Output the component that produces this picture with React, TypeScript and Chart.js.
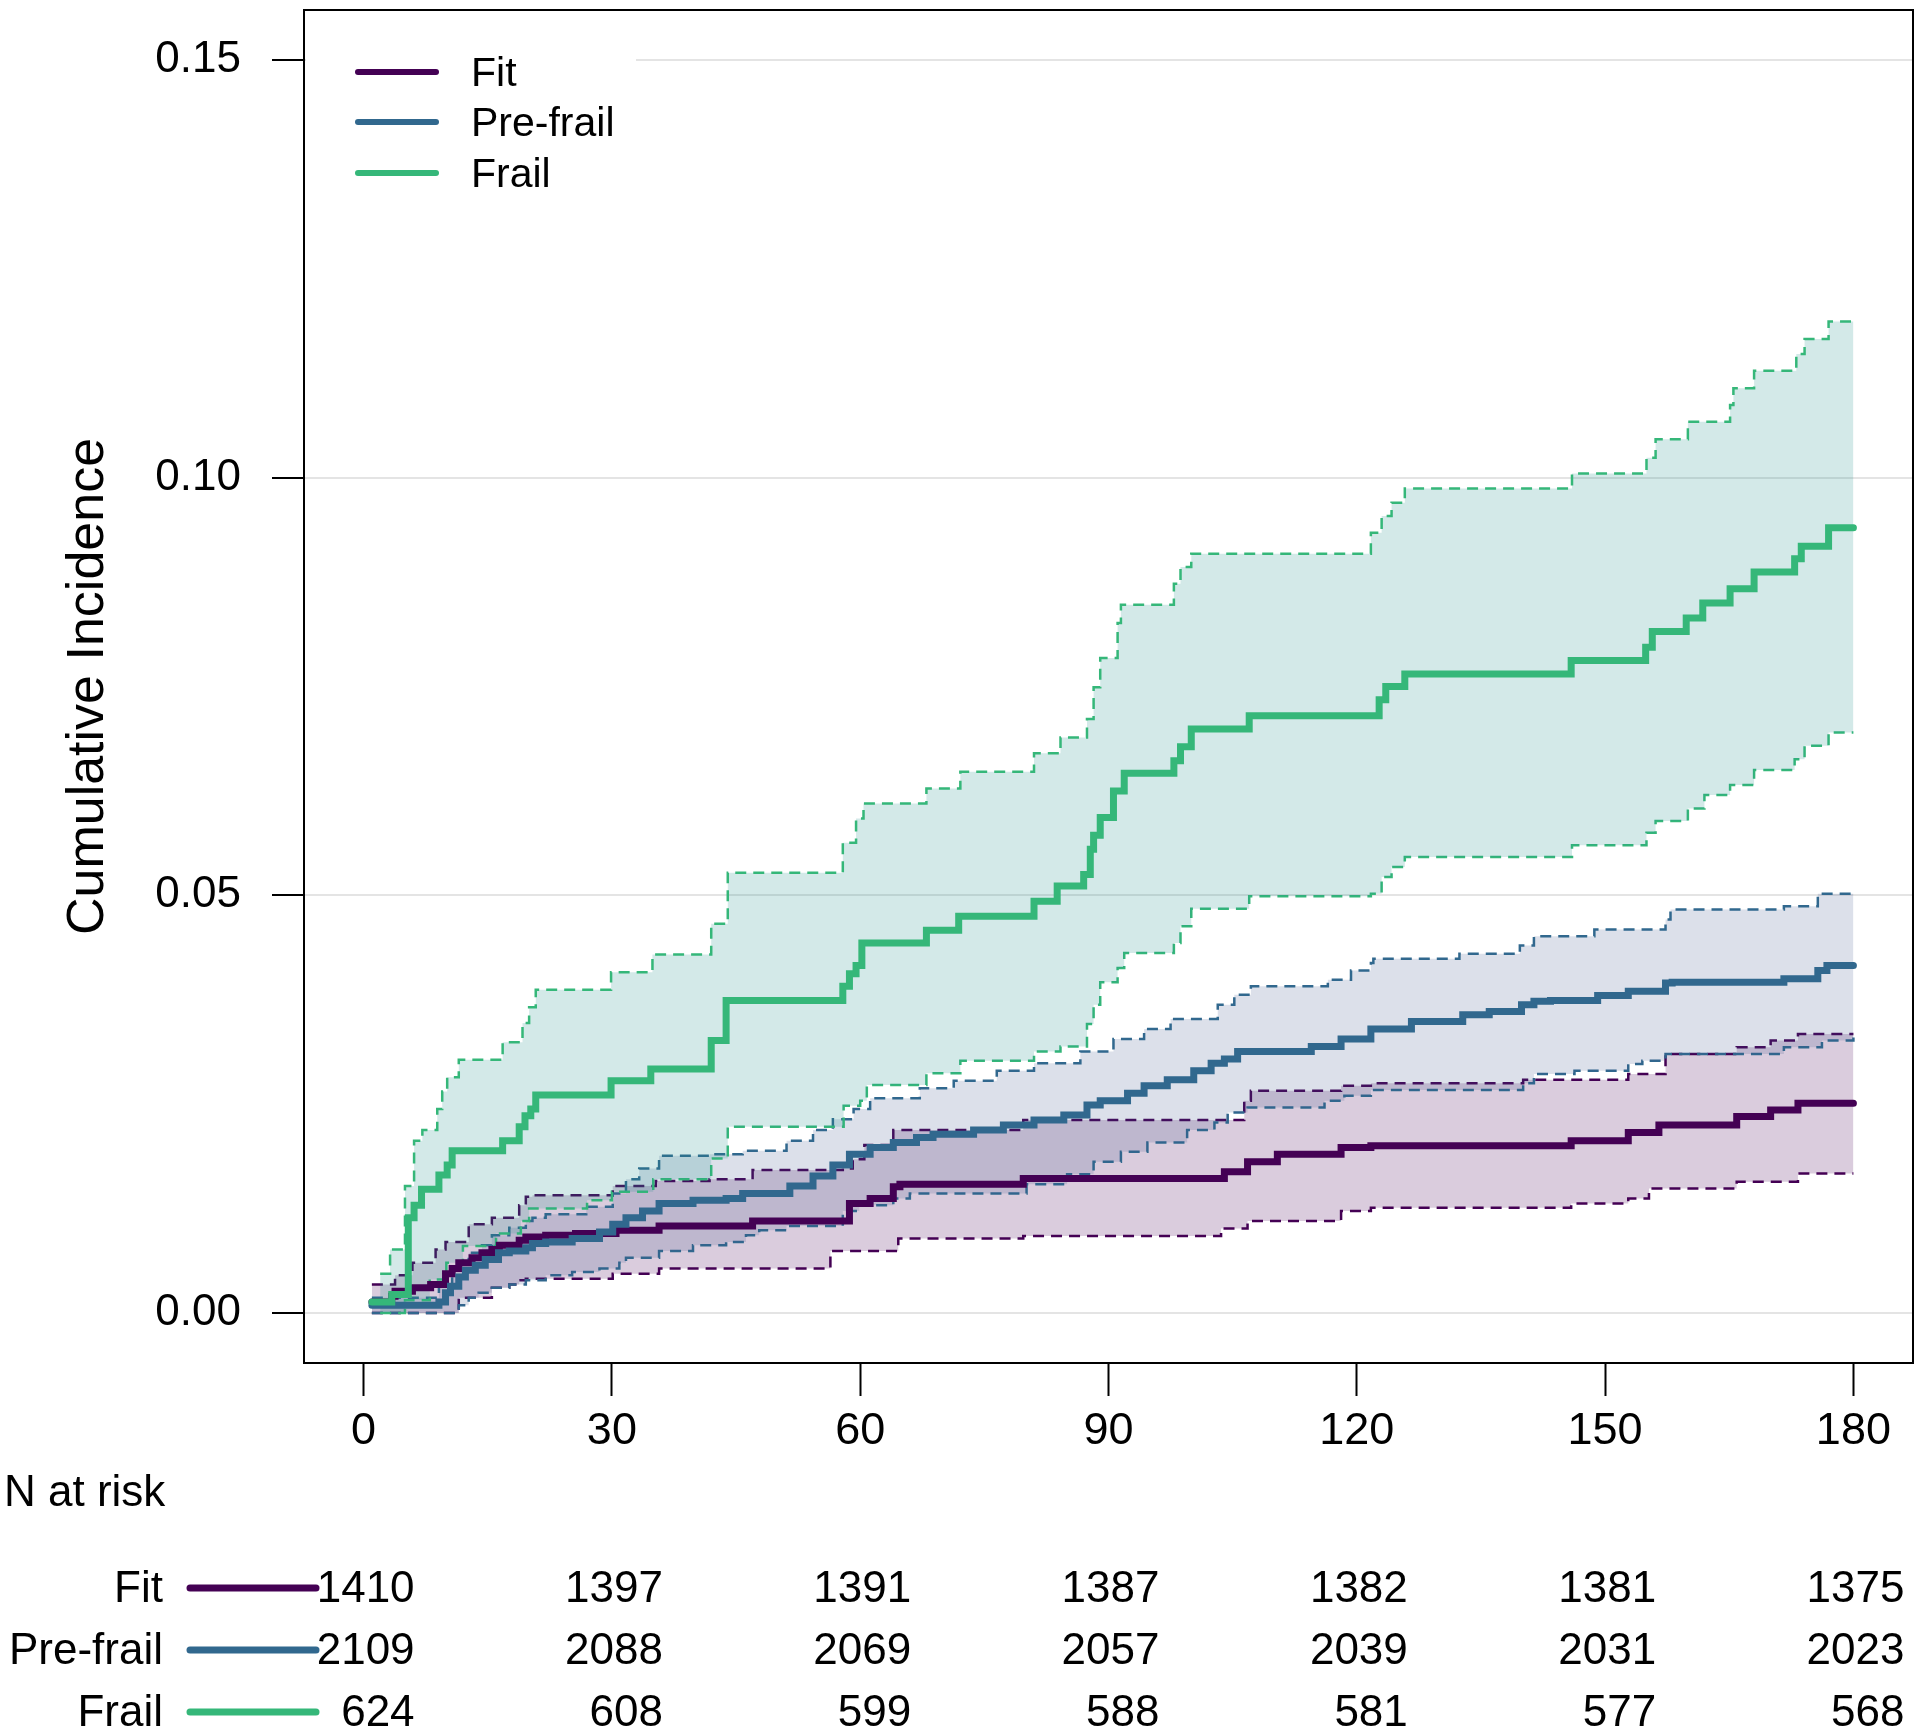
import React, { useEffect, useRef } from 'react';
import { Chart, registerables } from 'chart.js';

Chart.register(...registerables);

// ---------- Data ----------
const seriesNames = ['Fit', 'Pre-frail', 'Frail'];
const lineColors = ['#440154', '#31688E', '#35B779'];
const fillColors = ['rgba(68,1,84,0.20)', 'rgba(59,82,139,0.18)', 'rgba(33,144,140,0.20)'];

const xTicks = [0, 30, 60, 90, 120, 150, 180];
const yTicks = [0, 0.05, 0.1, 0.15];
const yTickLabels = ['0.00', '0.05', '0.10', '0.15'];

// Frail
const frailEstDays = [1, 3.4, 5.4, 6.1, 7.0, 9.1, 10.1, 10.7, 16.8, 18.8, 19.5, 20.2, 20.8, 29.9, 34.7, 42.0, 43.8, 57.9, 58.7, 59.5, 60.2, 68.0, 71.9, 81.0, 83.8, 87.0, 87.8, 88.2, 89.0, 90.6, 91.9, 97.9, 98.7, 100.0, 107.0, 122.7, 123.5, 125.8, 145.9, 154.9, 155.7, 159.8, 161.8, 165.1, 168.0, 172.9, 173.7, 177.0, 180];
const frailEstVals = [0.0013, 0.0022, 0.0114, 0.0129, 0.0148, 0.0165, 0.0177, 0.0194, 0.0206, 0.0223, 0.0236, 0.0244, 0.0261, 0.0278, 0.0292, 0.0326, 0.0374, 0.0391, 0.0406, 0.0416, 0.0443, 0.0458, 0.0475, 0.0493, 0.0511, 0.0525, 0.0555, 0.0572, 0.0593, 0.0625, 0.0646, 0.0661, 0.0678, 0.0699, 0.0715, 0.0734, 0.075, 0.0765, 0.0781, 0.0797, 0.0816, 0.0832, 0.085, 0.0867, 0.0887, 0.0903, 0.0918, 0.094, 0.094];
const frailUpDays = [2.0, 3.2, 5.0, 6.1, 7.1, 8.9, 9.5, 10.1, 11.5, 16.8, 19.2, 20.0, 20.8, 29.9, 34.9, 42.0, 44.0, 57.9, 59.5, 60.4, 68.0, 72.1, 81.0, 84.2, 87.4, 88.2, 89.0, 91.1, 91.5, 97.9, 98.7, 100.0, 121.7, 123.0, 124.2, 125.8, 146.0, 155.0, 156.1, 160.0, 165.1, 165.5, 168.0, 173.1, 174.1, 177.0, 180];
const frailUpVals = [0.0047, 0.0076, 0.0152, 0.0206, 0.0219, 0.0244, 0.0265, 0.0282, 0.0303, 0.0324, 0.0347, 0.0366, 0.0387, 0.0408, 0.0429, 0.0466, 0.0527, 0.0563, 0.0592, 0.061, 0.0628, 0.0648, 0.067, 0.0689, 0.0711, 0.0749, 0.0784, 0.0826, 0.0848, 0.0873, 0.0893, 0.0909, 0.0934, 0.0954, 0.097, 0.0987, 0.1005, 0.1024, 0.1046, 0.1067, 0.1087, 0.1107, 0.1128, 0.1148, 0.1166, 0.1187, 0.1187];
const frailLowDays = [2.0, 5.0, 8.0, 10.0, 12.0, 16.0, 19.0, 20.0, 27.0, 30.0, 35.0, 42.0, 44.0, 58.0, 60.0, 60.8, 68.0, 72.1, 81.0, 84.2, 87.4, 88.2, 89.0, 91.1, 91.9, 97.9, 98.7, 100.0, 107.0, 121.7, 123.0, 124.2, 125.8, 146.0, 155.0, 156.1, 160.0, 162.0, 165.1, 168.0, 172.9, 174.1, 177.0, 180];
const frailLowVals = [0, 0.0015, 0.004, 0.006, 0.008, 0.0095, 0.011, 0.0125, 0.0135, 0.0145, 0.016, 0.0185, 0.0223, 0.0248, 0.0254, 0.0273, 0.0287, 0.0302, 0.0313, 0.0319, 0.0346, 0.0369, 0.0396, 0.0413, 0.0431, 0.0443, 0.0463, 0.0484, 0.0499, 0.0502, 0.0522, 0.0534, 0.0546, 0.056, 0.0575, 0.0589, 0.0604, 0.062, 0.0632, 0.065, 0.0663, 0.0679, 0.0695, 0.0695];

// Pre-frail
const preEstDays = [1, 9.1, 9.9, 10.5, 11.5, 12.3, 13.5, 14.7, 16.3, 17.6, 19.6, 20.4, 22.0, 25.2, 28.5, 30.1, 31.7, 33.7, 35.7, 39.8, 43.8, 45.8, 51.5, 54.3, 56.7, 58.7, 61.2, 64.0, 66.8, 68.8, 73.7, 77.3, 81.0, 84.6, 87.4, 89.0, 92.3, 94.3, 97.1, 100.3, 102.4, 104.0, 105.6, 114.5, 118.1, 121.7, 126.6, 132.8, 136.0, 139.9, 141.4, 143.4, 149.1, 152.8, 157.3, 158.1, 171.6, 175.7, 176.8, 180];
const preEstVals = [0.0009, 0.0013, 0.0024, 0.0032, 0.0043, 0.0051, 0.0057, 0.0064, 0.0072, 0.0074, 0.0078, 0.0083, 0.0085, 0.0089, 0.0097, 0.0106, 0.0114, 0.0122, 0.0131, 0.0135, 0.0137, 0.0143, 0.0152, 0.0164, 0.0177, 0.019, 0.0198, 0.0204, 0.021, 0.0214, 0.0219, 0.0225, 0.0231, 0.0237, 0.0249, 0.0254, 0.0263, 0.0272, 0.0279, 0.029, 0.0299, 0.0304, 0.0313, 0.0319, 0.0328, 0.034, 0.0349, 0.0357, 0.0361, 0.0369, 0.0373, 0.0374, 0.038, 0.0385, 0.0395, 0.0396, 0.04, 0.041, 0.0416, 0.0416];
const preUpDays = [1, 9.1, 10.7, 11.5, 12.7, 14.3, 15.5, 17.6, 19.6, 20.4, 22.0, 26.9, 30.1, 31.7, 33.3, 35.7, 41.8, 45.8, 51.1, 54.3, 56.7, 59.2, 61.2, 67.2, 71.3, 76.5, 81.0, 86.6, 90.6, 94.3, 97.5, 103.2, 105.2, 107.2, 116.5, 119.3, 121.7, 122.0, 132.4, 139.7, 141.4, 148.7, 157.3, 157.9, 171.6, 175.7, 180];
const preUpVals = [0.0018, 0.0034, 0.0051, 0.006, 0.0072, 0.0081, 0.0093, 0.0102, 0.011, 0.0114, 0.0118, 0.0127, 0.0143, 0.016, 0.0173, 0.0188, 0.019, 0.0194, 0.0206, 0.0219, 0.0232, 0.0244, 0.0257, 0.0269, 0.0278, 0.029, 0.0299, 0.0313, 0.0328, 0.034, 0.0352, 0.0369, 0.0381, 0.0391, 0.0399, 0.041, 0.0419, 0.0424, 0.043, 0.044, 0.0451, 0.0459, 0.0471, 0.0483, 0.0487, 0.0502, 0.0502];
const preLowDays = [1, 11.5, 12.7, 13.9, 15.5, 17.6, 19.6, 22.0, 25.2, 28.5, 30.9, 31.7, 35.7, 39.8, 43.8, 46.2, 47.8, 51.1, 57.9, 59.9, 64.0, 66.0, 80.1, 85.0, 88.2, 91.5, 94.7, 99.5, 102.8, 104.4, 106.8, 116.1, 118.5, 121.7, 140.1, 141.4, 146.3, 152.8, 154.5, 157.3, 171.6, 176.2, 180];
const preLowVals = [0, 0.0009, 0.0018, 0.0024, 0.003, 0.0034, 0.0039, 0.0045, 0.0049, 0.0053, 0.006, 0.0066, 0.0074, 0.0081, 0.0085, 0.0093, 0.0099, 0.0104, 0.0122, 0.0129, 0.0137, 0.0143, 0.0154, 0.0166, 0.0181, 0.0193, 0.0204, 0.0219, 0.0228, 0.024, 0.0246, 0.0254, 0.026, 0.0267, 0.0275, 0.0286, 0.029, 0.0298, 0.0302, 0.031, 0.0318, 0.0326, 0.033];

// Fit
const fitEstDays = [1, 3.4, 3.8, 5.9, 8.1, 9.9, 10.7, 11.5, 13.1, 14.3, 15.5, 16.4, 18.8, 19.6, 22.0, 25.6, 30.5, 35.7, 47.0, 58.7, 61.2, 64.0, 64.8, 79.7, 104.0, 106.8, 110.4, 118.1, 121.7, 145.9, 152.8, 156.5, 165.9, 170.0, 173.3, 180];
const fitEstVals = [0.0013, 0.002, 0.0026, 0.003, 0.0034, 0.0047, 0.0053, 0.006, 0.0066, 0.0072, 0.0076, 0.0081, 0.0087, 0.0091, 0.0093, 0.0095, 0.0099, 0.0104, 0.011, 0.0131, 0.0137, 0.0151, 0.0154, 0.0161, 0.0169, 0.0181, 0.019, 0.0198, 0.02, 0.0206, 0.0216, 0.0225, 0.0235, 0.0243, 0.0251, 0.0251];
const fitUpDays = [1, 3.8, 5.9, 8.7, 9.9, 12.7, 15.5, 18.8, 19.6, 20.4, 30.1, 35.3, 41.8, 47.0, 57.9, 59.1, 60.5, 64.0, 79.7, 106.4, 107.2, 118.1, 121.7, 140.1, 152.8, 157.3, 165.9, 170.0, 173.3, 180];
const fitUpVals = [0.0034, 0.0045, 0.006, 0.0076, 0.0085, 0.0106, 0.0114, 0.0129, 0.0139, 0.0141, 0.0152, 0.0158, 0.016, 0.0171, 0.0173, 0.0184, 0.0201, 0.0219, 0.0231, 0.0254, 0.0266, 0.0272, 0.0275, 0.0279, 0.0286, 0.031, 0.0318, 0.0326, 0.0334, 0.0334];
const fitLowDays = [1, 11.5, 15.5, 17.6, 18.8, 19.6, 30.1, 35.7, 56.4, 64.6, 79.7, 103.6, 106.8, 118.1, 121.7, 145.9, 152.8, 155.3, 165.9, 173.3, 180];
const fitLowVals = [0, 0.0018, 0.003, 0.0034, 0.0039, 0.0041, 0.0047, 0.0053, 0.0074, 0.0089, 0.0092, 0.0101, 0.011, 0.0122, 0.0126, 0.0131, 0.0137, 0.0149, 0.0157, 0.0167, 0.0167];

// Number at risk
const riskTimes = [0, 30, 60, 90, 120, 150, 180];
const fitRisk = [1410, 1397, 1391, 1387, 1382, 1381, 1375];
const preRisk = [2109, 2088, 2069, 2057, 2039, 2031, 2023];
const frailRisk = [624, 608, 599, 588, 581, 577, 568];

const FONT = '"Liberation Sans", Arial, Helvetica, sans-serif';

function pts(days: number[], vals: number[]) {
  return days.map((d, i) => ({ x: d, y: vals[i] }));
}

export default function App() {
  const ref = useRef<HTMLCanvasElement | null>(null);

  useEffect(() => {
    const canvas = ref.current;
    if (!canvas) return;

    const est = [
      { name: 2, d: frailEstDays, v: frailEstVals },
      { name: 1, d: preEstDays, v: preEstVals },
      { name: 0, d: fitEstDays, v: fitEstVals },
    ];
    const bands = [
      { name: 2, ud: frailUpDays, uv: frailUpVals, ld: frailLowDays, lv: frailLowVals },
      { name: 1, ud: preUpDays, uv: preUpVals, ld: preLowDays, lv: preLowVals },
      { name: 0, ud: fitUpDays, uv: fitUpVals, ld: fitLowDays, lv: fitLowVals },
    ];

    const datasets: any[] = [];
    est.forEach((e) => {
      datasets.push({
        label: seriesNames[e.name],
        data: pts(e.d, e.v),
        borderColor: lineColors[e.name],
        borderWidth: 7,
        stepped: 'before',
        fill: false,
        pointRadius: 0,
        borderCapStyle: 'round',
        borderJoinStyle: 'miter',
      });
    });
    bands.forEach((b) => {
      const lowIndex = datasets.length + 1;
      datasets.push({
        label: seriesNames[b.name] + ' upper',
        data: pts(b.ud, b.uv),
        borderColor: lineColors[b.name],
        borderWidth: 2.5,
        borderDash: [11, 7],
        stepped: 'before',
        pointRadius: 0,
        backgroundColor: fillColors[b.name],
        fill: { target: lowIndex, above: fillColors[b.name], below: fillColors[b.name] },
      });
      datasets.push({
        label: seriesNames[b.name] + ' lower',
        data: pts(b.ld, b.lv),
        borderColor: lineColors[b.name],
        borderWidth: 2.5,
        borderDash: [11, 7],
        stepped: 'before',
        pointRadius: 0,
        fill: false,
      });
    });

    const decor = {
      id: 'decor',
      afterDraw(chart: any) {
        const ctx = chart.ctx;
        const a = chart.chartArea;
        const xs = chart.scales.x;
        ctx.save();
        // box
        ctx.strokeStyle = '#000';
        ctx.lineWidth = 2;
        ctx.strokeRect(a.left, a.top, a.right - a.left, a.bottom - a.top);

        // legend
        ctx.fillStyle = '#fff';
        ctx.fillRect(a.left + 2, a.top + 4, 330, 195);
        const legY = [72, 122, 173];
        ctx.font = `41px ${FONT}`;
        ctx.textBaseline = 'middle';
        ctx.textAlign = 'left';
        for (let i = 0; i < 3; i++) {
          ctx.strokeStyle = lineColors[i];
          ctx.lineWidth = 6;
          ctx.lineCap = 'round';
          ctx.beginPath();
          ctx.moveTo(358, legY[i]);
          ctx.lineTo(436, legY[i]);
          ctx.stroke();
          ctx.fillStyle = '#000';
          ctx.fillText(seriesNames[i], 471, legY[i] + 3);
        }

        // y title
        ctx.save();
        ctx.translate(89, (a.top + a.bottom) / 2);
        ctx.rotate(-Math.PI / 2);
        ctx.font = `52px ${FONT}`;
        ctx.textAlign = 'center';
        ctx.textBaseline = 'middle';
        ctx.fillStyle = '#000';
        ctx.fillText('Cumulative Incidence', 0, 0);
        ctx.restore();

        // risk table
        ctx.font = `44px ${FONT}`;
        ctx.fillStyle = '#000';
        ctx.textBaseline = 'middle';
        ctx.textAlign = 'left';
        ctx.fillText('N at risk', 4, 1494);
        const rowY = [1588, 1650, 1712];
        const rows = [fitRisk, preRisk, frailRisk];
        for (let r = 0; r < 3; r++) {
          ctx.textAlign = 'right';
          ctx.fillStyle = '#000';
          ctx.fillText(seriesNames[r], 163, rowY[r] + 2);
          ctx.strokeStyle = lineColors[r];
          ctx.lineWidth = 7;
          ctx.lineCap = 'round';
          ctx.beginPath();
          ctx.moveTo(190, rowY[r]);
          ctx.lineTo(316, rowY[r]);
          ctx.stroke();
          for (let i = 0; i < riskTimes.length; i++) {
            const px = xs.getPixelForValue(riskTimes[i]);
            ctx.fillText(String(rows[r][i]), px + 51, rowY[r] + 2);
          }
        }
        ctx.restore();
      },
    };

    const chart = new Chart(canvas, {
      type: 'line',
      data: { datasets },
      options: {
        animation: false,
        responsive: false,
        maintainAspectRatio: false,
        devicePixelRatio: 1,
        layout: { padding: { top: 10, right: 7, left: 0, bottom: 0 } },
        plugins: {
          legend: { display: false },
          tooltip: { enabled: false },
          filler: { propagate: false },
        },
        elements: { point: { radius: 0 }, line: { tension: 0 } },
        scales: {
          x: {
            type: 'linear',
            min: -7.2,
            max: 187.2,
            afterBuildTicks: (s: any) => {
              s.ticks = xTicks.map((v) => ({ value: v }));
            },
            afterFit: (s: any) => {
              s.height = 371;
              s.paddingLeft = 0;
              s.paddingRight = 0;
            },
            grid: { drawOnChartArea: false, tickLength: 33, tickColor: '#000', tickWidth: 2 },
            border: { display: false },
            ticks: {
              color: '#000',
              font: { family: FONT, size: 45 },
              padding: 9,
              maxRotation: 0,
              autoSkip: false,
              callback: (v: any) => String(v),
            },
          },
          y: {
            type: 'linear',
            min: -0.006,
            max: 0.156,
            afterBuildTicks: (s: any) => {
              s.ticks = yTicks.map((v) => ({ value: v }));
            },
            afterFit: (s: any) => {
              s.width = 304;
              s.paddingTop = 0;
              s.paddingBottom = 0;
            },
            grid: { color: '#e4e4e4', lineWidth: 2, tickLength: 32, tickColor: '#000', tickWidth: 2 },
            border: { display: false },
            ticks: {
              color: '#000',
              font: { family: FONT, size: 44 },
              padding: 31,
              autoSkip: false,
              callback: (v: any) => {
                const i = yTicks.findIndex((t) => Math.abs(t - v) < 1e-9);
                return i >= 0 ? yTickLabels[i] : '';
              },
            },
          },
        },
      },
      plugins: [decor],
    });

    return () => chart.destroy();
  }, []);

  return (
    <div style={{ position: 'absolute', left: 0, top: 0, width: 1920, height: 1734, background: '#fff' }}>
      <canvas ref={ref} width={1920} height={1734} style={{ width: 1920, height: 1734, display: 'block' }} />
    </div>
  );
}
